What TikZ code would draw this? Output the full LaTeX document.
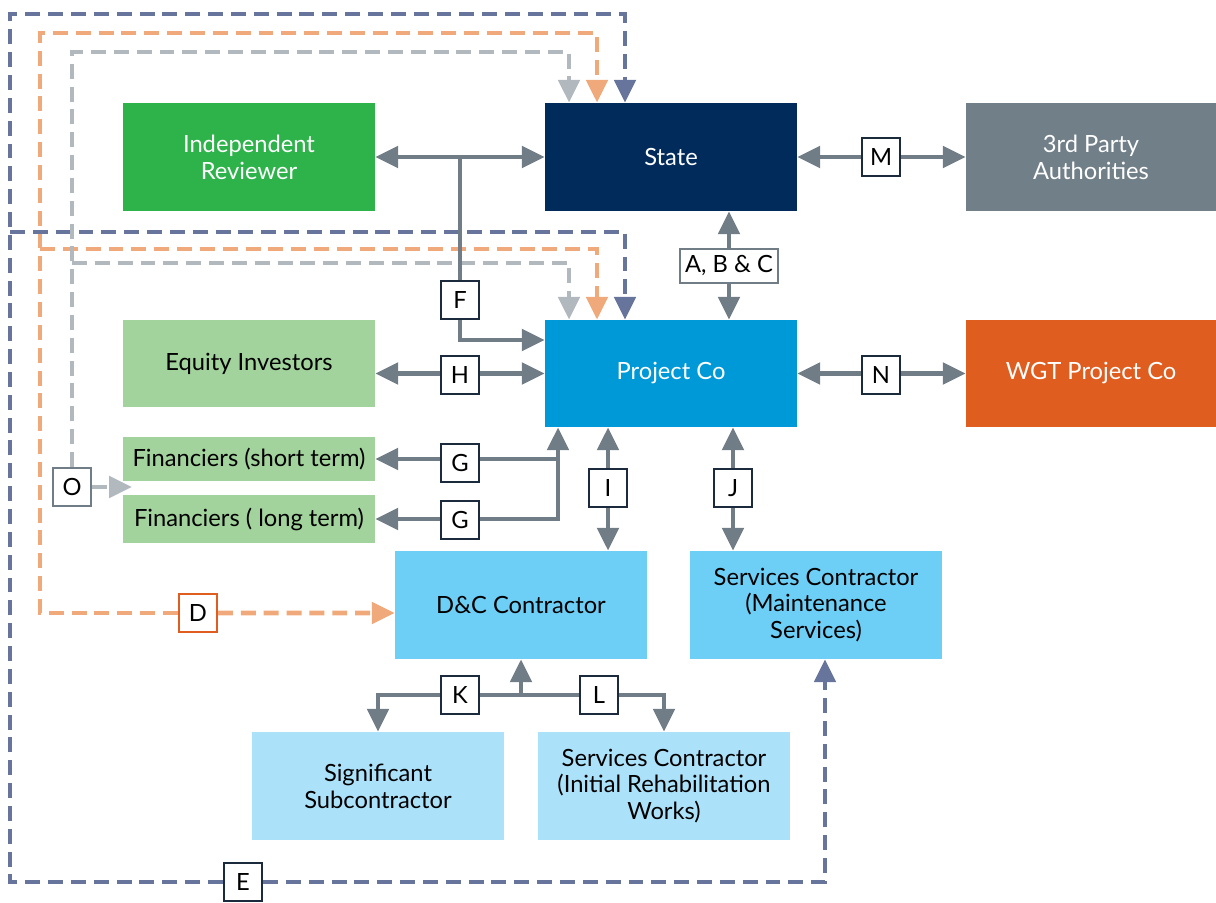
\documentclass[tikz,border=0pt]{standalone}
\usepackage{fontspec}
\setmainfont{Lato}
\usetikzlibrary{arrows.meta,positioning}

\definecolor{irgreen}{HTML}{2EB34B}
\definecolor{statenavy}{HTML}{012B5A}
\definecolor{thirdgray}{HTML}{717F88}
\definecolor{lightgreen}{HTML}{A2D39C}
\definecolor{pcblue}{HTML}{0099D8}
\definecolor{wgtorange}{HTML}{E05D20}
\definecolor{dcblue}{HTML}{6DCFF6}
\definecolor{subblue}{HTML}{ACE1FA}
\definecolor{linkgray}{HTML}{707D86}
\definecolor{navydash}{HTML}{67749C}
\definecolor{orangedash}{HTML}{F0A97B}
\definecolor{graydash}{HTML}{B1B8BE}
\definecolor{tagnavy}{HTML}{1B2A3C}

\tikzset{
  box/.style={minimum width=5.04cm, minimum height=2.16cm, align=center, inner sep=0pt,
    font=\fontsize{13.5}{15.3}\selectfont},
  tag/.style={draw=tagnavy, fill=white, line width=1.2pt, minimum size=0.76cm, inner sep=2pt,
    font=\fontsize{13.5}{14}\selectfont},
  oneway/.style={draw=linkgray, line width=2.8pt, -{Triangle[length=13pt,width=12pt]}},
  twoway/.style={draw=linkgray, line width=2.8pt, {Triangle[length=13pt,width=12pt]}-{Triangle[length=13pt,width=12pt]}},
  dashline/.style={line width=2.7pt, dash pattern=on 8.5pt off 4.5pt, -{Triangle[length=13pt,width=12pt]}},
  navyline/.style={dashline, draw=navydash},
  orangeline/.style={dashline, draw=orangedash},
  grayline/.style={dashline, draw=graydash}
}

\begin{document}
\begin{tikzpicture}[x=0.02cm, y=-0.02cm]
\useasboundingbox (0,0) rectangle (1216,902);

% top row
\node[box, fill=irgreen, text=white] (ir) at (249,157) {Independent\\Reviewer};
\node[box, fill=statenavy, text=white] (state) at (671,157) {State};
\node[box, fill=thirdgray, text=white, minimum width=5cm] (third) at (1091,157) {3rd Party\\Authorities};

% middle row
\node[box, fill=lightgreen, minimum height=1.74cm] (equity) at (249,363.5) {Equity Investors};
\node[box, fill=pcblue, text=white, minimum height=2.14cm] (pc) at (671,373.5) {Project Co};
\node[box, fill=wgtorange, text=white, minimum width=5cm, minimum height=2.14cm] (wgt) at (1091,373.5) {WGT Project Co};
\node[box, fill=lightgreen, minimum height=0.88cm] (finS) at (249,459) {Financiers (short term)};
\node[box, fill=lightgreen, minimum height=0.96cm] (finL) at (249,519) {Financiers ( long term)};

% contractors
\node[box, fill=dcblue] (dc) at (521,605) {D\&C Contractor};
\node[box, fill=dcblue] (scm) at (816,605) {Services Contractor\\(Maintenance\\Services)};
\node[box, fill=subblue] (sub) at (378,786) {Significant\\Subcontractor};
\node[box, fill=subblue] (sci) at (664,786) {Services Contractor\\(Initial Rehabilitation\\Works)};

% tags at the ends of the dashed lines
\node[tag, draw=tagnavy] (tagE) at (243,882) {E};
\node[tag, draw=wgtorange] (tagD) at (198,613) {D};
\node[tag, draw=linkgray] (tagO) at (72,487) {O};

% E
\coordinate (nvTop) at (10,14);
\coordinate (nvMid) at (10,232);
\draw[navyline] (tagE.west) -| (nvTop) -| ([xshift=-0.92cm]state.north);
\draw[navyline] (nvMid) -| ([xshift=-0.92cm]pc.north);
\draw[navyline] (tagE.east) -| ([xshift=0.18cm]scm.south);

% D
\coordinate (orTop) at (40,33);
\coordinate (orMid) at (40,249);
\draw[orangeline] (tagD.west) -| (orTop) -| ([xshift=-1.48cm]state.north);
\draw[orangeline] (orMid) -| ([xshift=-1.48cm]pc.north);
\draw[orangeline] (tagD.east) -- ([yshift=-0.16cm]dc.west);

% O
\coordinate (grTop) at (72,52);
\coordinate (grMid) at (72,263);
\coordinate (oEnd) at (132,487);
\draw[grayline] (tagO.north) -- (grTop) -| ([xshift=-2.04cm]state.north);
\draw[grayline] (grMid) -| ([xshift=-2.04cm]pc.north);
\draw[grayline] (tagO.east) -- (oEnd);

% solid links
\coordinate (fTop) at (460,157);
\draw[twoway] (ir) -- (state);
\draw[oneway] (fTop) |- ([yshift=0.67cm]pc.west);
\draw[twoway] (state) -- (third);
\draw[twoway] ([xshift=1.16cm]state.south) -- ([xshift=1.16cm]pc.north);
\draw[twoway] (equity.east |- pc.west) -- (pc.west);
\draw[twoway] (pc) -- (wgt);
\draw[twoway] (finL.east) -| ([xshift=-2.26cm]pc.south);
\draw[oneway] ([xshift=-2.26cm]pc.south |- finS.east) -- (finS.east);
\draw[twoway] ([xshift=-1.26cm]pc.south) -- ([xshift=-1.26cm]pc.south |- dc.north);
\draw[twoway] ([xshift=1.24cm]pc.south) -- ([xshift=1.24cm]pc.south |- scm.north);
\coordinate (kl) at (521,695);
\draw[oneway] (kl) -- (dc.south);
\draw[oneway] (kl) -| (sub.north);
\draw[oneway] (kl) -| (sci.north);

% tags on the solid links
\node[tag] (tagF) at (460,300) {F};
\node[tag] (tagM) at (881,157) {M};
\node[tag, draw=linkgray, minimum height=0.68cm, inner sep=3pt] (tagABC) at (729,266) {A, B \& C};
\node[tag] (tagH) at (460,375) {H};
\node[tag] (tagN) at (881,375) {N};
\node[tag] (tagG1) at (460,463) {G};
\node[tag] (tagG2) at (460,520) {G};
\node[tag] (tagI) at (608,488) {I};
\node[tag] (tagJ) at (733,488) {J};
\node[tag] (tagK) at (460,695) {K};
\node[tag] (tagL) at (599,695) {L};
\end{tikzpicture}
\end{document}
